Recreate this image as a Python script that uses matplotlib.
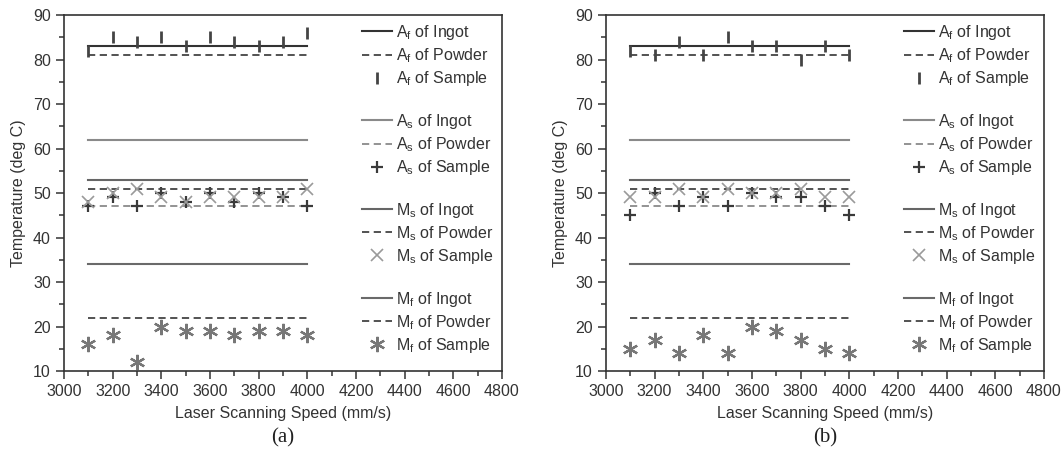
import numpy as np
import matplotlib.pyplot as plt
from matplotlib.lines import Line2D

plt.rcParams['font.family'] = ['Liberation Sans', 'DejaVu Sans']
plt.rcParams['mathtext.fontset'] = 'custom'
plt.rcParams['mathtext.rm'] = 'Liberation Sans'

# Laser scanning speeds (mm/s)
speed = [3100, 3200, 3300, 3400, 3500, 3600, 3700, 3800, 3900, 4000]

# Reference temperatures (deg C), same in both panels
af_ingot, af_powder = 83, 81
as_ingot, as_powder = 62, 47
ms_ingot, ms_powder = 53, 51
mf_ingot, mf_powder = 34, 22

# Sample temperatures, panel (a)
af_a = [82, 85, 84, 85, 83, 85, 84, 83, 84, 86]
as_a = [47, 49, 47, 50, 48, 50, 48, 50, 49, 47]
ms_a = [48, 50, 51, 49, 48, 49, 49, 49, 49, 51]
mf_a = [16, 18, 12, 20, 19, 19, 18, 19, 19, 18]

# Sample temperatures, panel (b)
af_b = [82, 81, 84, 81, 85, 83, 83, 80, 83, 81]
as_b = [45, 50, 47, 49, 47, 50, 49, 49, 47, 45]
ms_b = [49, 49, 51, 49, 51, 50, 50, 51, 49, 49]
mf_b = [15, 17, 14, 18, 14, 20, 19, 17, 15, 14]

panels = [("(a)", af_a, as_a, ms_a, mf_a), ("(b)", af_b, as_b, ms_b, mf_b)]

fig = plt.figure(figsize=(10.63, 4.59), dpi=100)
axes = [fig.add_axes([0.0602, 0.1917, 0.4120, 0.7756]),
        fig.add_axes([0.5700, 0.1917, 0.4120, 0.7756])]

dash = (0, (4, 2.5))
ax_col = '#333333'
fs = 11.5

for ax, (tag, af_s, as_s, ms_s, mf_s) in zip(axes, panels):
    x0, x1 = speed[0], speed[-1]
    h = []
    # A_f
    h.append(ax.plot([x0, x1], [af_ingot] * 2, color='#333333', lw=1.5)[0])
    h.append(ax.plot([x0, x1], [af_powder] * 2, color='#444444', lw=1.3, ls=dash)[0])
    h.append(ax.plot(speed, af_s, ls='none', marker='|', ms=8.5, mew=2, color='#444444')[0])
    # A_s
    h.append(ax.plot([x0, x1], [as_ingot] * 2, color='#8a8a8a', lw=1.5)[0])
    h.append(ax.plot([x0, x1], [as_powder] * 2, color='#8a8a8a', lw=1.3, ls=dash)[0])
    h.append(ax.plot(speed, as_s, ls='none', marker='+', ms=9, mew=1.6, color='#3a3a3a')[0])
    # M_s
    h.append(ax.plot([x0, x1], [ms_ingot] * 2, color='#666666', lw=1.5)[0])
    h.append(ax.plot([x0, x1], [ms_powder] * 2, color='#444444', lw=1.3, ls=dash)[0])
    h.append(ax.plot(speed, ms_s, ls='none', marker='x', ms=9, mew=1.2, color='#9a9a9a')[0])
    # M_f
    h.append(ax.plot([x0, x1], [mf_ingot] * 2, color='#6a6a6a', lw=1.5)[0])
    h.append(ax.plot([x0, x1], [mf_powder] * 2, color='#444444', lw=1.3, ls=dash)[0])
    h.append(ax.plot(speed, mf_s, ls='none', marker=(6, 2, 0), ms=11, mew=1.6, color='#777777')[0])

    names = ['$\\mathregular{A_f}$', '$\\mathregular{A_s}$',
             '$\\mathregular{M_s}$', '$\\mathregular{M_f}$']
    handles, labels = [], []
    for i, nm in enumerate(names):
        if i > 0:
            handles.append(Line2D([], [], ls='none'))
            labels.append(' ')
        for j, src in enumerate(['Ingot', 'Powder', 'Sample']):
            handles.append(h[3 * i + j])
            labels.append(nm + ' of ' + src)
    ax.legend(handles, labels, loc='upper left', bbox_to_anchor=(0.68, 0.978),
              frameon=False, fontsize=fs, handlelength=1.9, handletextpad=0.25,
              labelspacing=0.27, borderpad=0, borderaxespad=0, labelcolor='#333333')

    ax.set_xlim(3000, 4800)
    ax.set_ylim(10, 90)
    ax.set_xticks(np.arange(3000, 4801, 200))
    ax.set_xticks(np.arange(3100, 4800, 200), minor=True)
    ax.set_yticks(np.arange(10, 91, 10))
    ax.set_yticks(np.arange(15, 90, 10), minor=True)
    ax.tick_params(which='major', direction='out', length=6, width=1.1,
                   colors=ax_col, labelsize=fs, labelcolor='#333333')
    ax.tick_params(which='minor', direction='out', length=3.5, width=1.1, colors=ax_col)
    for sp in ax.spines.values():
        sp.set_color(ax_col)
        sp.set_linewidth(1.2)
    ax.set_xlabel('Laser Scanning Speed (mm/s)', fontsize=fs, color='#333333', labelpad=5)
    ax.set_ylabel('Temperature (deg C)', fontsize=fs, color='#333333', labelpad=5)
    ax.text(0.5, -0.188, tag, transform=ax.transAxes, ha='center', va='center',
            fontsize=15, family='Liberation Serif', color='#222222')

fig.savefig('out.png', dpi=100)
